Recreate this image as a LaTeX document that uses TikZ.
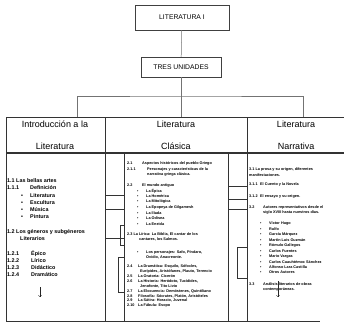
\documentclass[tikz,border=0pt]{standalone}
\usepackage{fontspec}
\setmainfont{Liberation Sans}
\begin{document}
\begin{tikzpicture}[x=1pt,y=-1pt,
  titlebox/.style={shape=rectangle,draw=black!75,font=\fontsize{6.8}{8}\selectfont},
  header/.style={align=center,inner sep=0pt,font=\fontsize{9}{22}\selectfont},
  bigtxt/.style={anchor=west,inner sep=0pt,font=\fontsize{5.4}{6}\selectfont\bfseries},
  smalltxt/.style={anchor=west,inner sep=0pt,font=\fontsize{3.8}{4.5}\selectfont\bfseries},
  rule/.style={draw=black!80,line width=0.5pt},
  link/.style={draw=black!55,line width=0.5pt}]
\useasboundingbox (0,0) rectangle (344,324);
\node[titlebox,minimum width=94pt,minimum height=25pt] (lit) at (182,17.5) {LITERATURA I};
\node[titlebox,minimum width=80pt,minimum height=20pt] (tres) at (181,67) {TRES UNIDADES};
\node[header] (intro) at (55,135) {Introducción a la\\Literatura};
\node[header] (clasica) at (176,135) {Literatura\\Clásica};
\node[header] (narrativa) at (296,135) {Literatura\\Narrativa};
\coordinate (bus) at (181,96);
\coordinate (jl) at (77,117);
\coordinate (jm) at (181,117);
\coordinate (jr) at (303,117);
\path[link] (lit) edge (tres);
\path[link] (tres) edge (jm);
\draw[link] (jl) |- (bus) -| (jr);
% frame
\draw[rule] (6,117) -- (344,117);
\draw[rule] (6,117) -- (6,321) -- (320,321);
\draw[rule] (105,117) -- (105,321);
\draw[rule] (247,117) -- (247,321);
\draw[rule] (124,153) -- (124,321);
\draw[rule] (228,153) -- (228,321);
\draw[rule,line width=1.4pt] (6,153) -- (344,153);
\draw[rule,line width=1pt] (105,290) -- (105,306);
\draw[rule] (105,195) -- (124,195) (105,209) -- (124,209) (105,238) -- (124,238);
\draw[rule] (120,225) rectangle (124,245) (118,257) rectangle (124,292);
\draw[rule] (228,186) -- (247,186) (228,199) -- (247,199) (228,209) -- (247,209);
\draw[rule] (237,247) rectangle (247,278);
% unidad 1
\node[bigtxt] (a11) at (7,181) {1.1 Las bellas artes};
\node[bigtxt] (a111) at (7,188) {\makebox[23pt][l]{1.1.1}Definición};
\node[bigtxt] (a1) at (21,196) {\makebox[9pt][l]{\textbullet}Literatura};
\node[bigtxt] (a2) at (21,203) {\makebox[9pt][l]{\textbullet}Escultura};
\node[bigtxt] (a3) at (21,210) {\makebox[9pt][l]{\textbullet}Música};
\node[bigtxt] (a4) at (21,217) {\makebox[9pt][l]{\textbullet}Pintura};
\node[bigtxt] (a12) at (7,232) {1.2 Los géneros y subgéneros};
\node[bigtxt] (a12b) at (20,239) {Literarios};
\node[bigtxt] (a121) at (7,254) {\makebox[24pt][l]{1.2.1}Épico};
\node[bigtxt] (a122) at (7,261) {\makebox[24pt][l]{1.2.2}Lírico};
\node[bigtxt] (a123) at (7,268) {\makebox[24pt][l]{1.2.3}Didáctico};
\node[bigtxt] (a124) at (7,275) {\makebox[24pt][l]{1.2.4}Dramático};
\coordinate (ar1) at (40,287);
\coordinate (ar2) at (40,297);
\draw[->,black!85] (ar1) -- (ar2);
% unidad 2
\node[smalltxt] (b21) at (127,164) {\makebox[15pt][l]{2.1}Aspectos históricos del pueblo Griego};
\node[smalltxt] (b211) at (127,169) {\makebox[20pt][l]{2.1.1}Personajes y características de la};
\node[smalltxt] (b211b) at (147,174.5) {narrativa griega clásica.};
\node[smalltxt] (b22) at (127,186) {\makebox[15pt][l]{2.2}El mundo antiguo};
\node[smalltxt] (b1) at (137,191) {\makebox[9pt][l]{\textbullet}La Épica};
\node[smalltxt] (b2) at (137,196.5) {\makebox[9pt][l]{\textbullet}La Homérica};
\node[smalltxt] (b3) at (137,202) {\makebox[9pt][l]{\textbullet}La Mitológica};
\node[smalltxt] (b4) at (137,207.5) {\makebox[9pt][l]{\textbullet}La Epopeya de Gilgamesh};
\node[smalltxt] (b5) at (137,213) {\makebox[9pt][l]{\textbullet}La Ilíada};
\node[smalltxt] (b6) at (137,218.5) {\makebox[9pt][l]{\textbullet}La Odisea};
\node[smalltxt] (b7) at (137,224) {\makebox[9pt][l]{\textbullet}La Eneida};
\node[smalltxt] (b23) at (127,234) {2.3 La Lírica: La Biblia, El cantar de los};
\node[smalltxt] (b23b) at (139,239) {cantares, los Salmos.};
\node[smalltxt] (b8) at (137,252) {\makebox[9pt][l]{\textbullet}Los personajes: Safo, Píndaro,};
\node[smalltxt] (b8b) at (146,257) {Ovidio, Anacreonte.};
\node[smalltxt] (b24) at (127,266.7) {\makebox[11pt][l]{2.4}La Dramática: Esquilo, Sófocles,};
\node[smalltxt] (b24b) at (140,271.7) {Eurípides, Aristófanes, Plauto, Terencio};
\node[smalltxt] (b25) at (127,276.3) {\makebox[11pt][l]{2.5}La Oratoria: Cicerón};
\node[smalltxt] (b26) at (127,281.7) {\makebox[11pt][l]{2.6}La Historia: Heródoto, Tucídides,};
\node[smalltxt] (b26b) at (140,286) {Jenofonte, Tito Livio};
\node[smalltxt] (b27) at (127,291.3) {\makebox[11pt][l]{2.7}La Elocuencia: Demóstenes, Quintiliano};
\node[smalltxt] (b28) at (127,296) {\makebox[11pt][l]{2.8}Filosofía: Sócrates, Platón, Aristóteles};
\node[smalltxt] (b29) at (127,300.7) {\makebox[11pt][l]{2.9}La Sátira: Horacio, Juvenal};
\node[smalltxt] (b210) at (127,305) {\makebox[11pt][l]{2.10}La Fábula: Esopo};
% unidad 3
\node[smalltxt] (c31) at (249,170) {3.1 La prosa y su origen, diferentes};
\node[smalltxt] (c31b) at (249,175) {manifestaciones.};
\node[smalltxt] (c311) at (249,185) {\makebox[11pt][l]{3.1.1}El Cuento y la Novela};
\node[smalltxt] (c312) at (249,197) {\makebox[11pt][l]{3.1.2}El ensayo y su origen.};
\node[smalltxt] (c32) at (249,208) {\makebox[14pt][l]{3.2}Autores representativos desde el};
\node[smalltxt] (c32b) at (263,213) {siglo XVIII hasta nuestros días.};
\node[smalltxt] (c1) at (260,224) {\makebox[9pt][l]{\textbullet}Víctor Hugo};
\node[smalltxt] (c2) at (260,229.4) {\makebox[9pt][l]{\textbullet}Rulfo};
\node[smalltxt] (c3) at (260,234.8) {\makebox[9pt][l]{\textbullet}García Márquez};
\node[smalltxt] (c4) at (260,240.2) {\makebox[9pt][l]{\textbullet}Martín Luis Guzmán};
\node[smalltxt] (c5) at (260,245.6) {\makebox[9pt][l]{\textbullet}Rómulo Gallegos};
\node[smalltxt] (c6) at (260,251) {\makebox[9pt][l]{\textbullet}Carlos Fuentes};
\node[smalltxt] (c7) at (260,256.4) {\makebox[9pt][l]{\textbullet}Mario Vargas};
\node[smalltxt] (c8) at (260,261.8) {\makebox[9pt][l]{\textbullet}Carlos Cuauhtémoc Sánchez};
\node[smalltxt] (c9) at (260,267.2) {\makebox[9pt][l]{\textbullet}Alfonso Lara Castilla};
\node[smalltxt] (c10) at (260,272.6) {\makebox[9pt][l]{\textbullet}Otros Autores};
\node[smalltxt] (c33) at (249,284) {\makebox[14pt][l]{3.3}Análisis literarios de obras};
\node[smalltxt] (c33b) at (263,289) {contemporáneas.};
\coordinate (ar3) at (278,281);
\coordinate (ar4) at (278,297);
\draw[->,black!85] (ar3) -- (ar4);
\end{tikzpicture}
\end{document}
